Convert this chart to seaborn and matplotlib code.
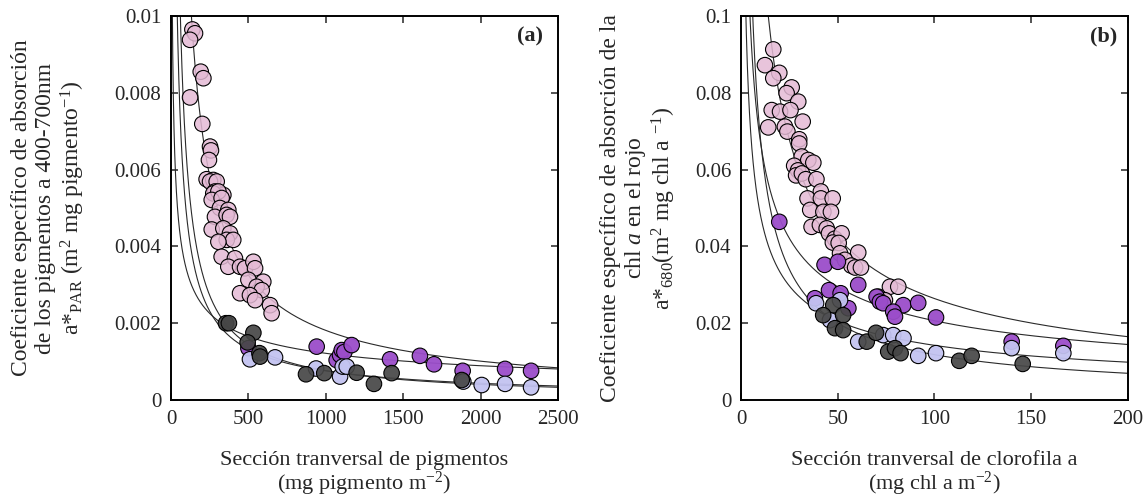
import numpy as np
import pandas as pd
import matplotlib
matplotlib.use("Agg")
import matplotlib.pyplot as plt
import seaborn as sns

# ---------------- data: panel (a) ----------------
pink_a_x = [138, 155, 123, 192, 209, 123, 202, 252, 258, 245,
            230, 273, 252, 295, 284, 338, 273, 306, 263, 327,
            316, 370, 284, 359, 381, 263, 338, 381, 360, 402,
            306, 327, 413, 370, 446, 478, 532, 543, 500, 596,
            553, 586, 446, 510, 543, 640, 650]
pink_a_y = [0.00965, 0.00955, 0.00938, 0.00855, 0.00838, 0.00788, 0.00719, 0.0066, 0.0065, 0.00625,
            0.00575, 0.00573, 0.00569, 0.00569, 0.00543, 0.00534, 0.00538, 0.00543, 0.00521, 0.00526,
            0.00500, 0.00495, 0.00477, 0.00482, 0.00477, 0.00444, 0.00447, 0.00434, 0.00417, 0.00417,
            0.00412, 0.00373, 0.00369, 0.00347, 0.00347, 0.00343, 0.00360, 0.00343, 0.00313, 0.00308,
            0.00295, 0.00286, 0.00278, 0.00273, 0.00260, 0.00247, 0.00226]
purple_a_x = [500, 941, 1070, 1092, 1103, 1120, 1167, 1415, 1608, 1699, 1884, 2158, 2326]
purple_a_y = [0.00135, 0.00139, 0.00104, 0.00117, 0.00130, 0.00125, 0.00143, 0.00106, 0.00115,
              0.00093, 0.00076, 0.00081, 0.00076]
lav_a_x = [510, 672, 937, 1092, 1109, 1135, 1888, 2007, 2158, 2326]
lav_a_y = [0.00106, 0.00111, 0.00082, 0.00061, 0.00087, 0.00087, 0.00048, 0.00039, 0.00042, 0.00033]
dark_a_x = [355, 374, 532, 495, 571, 575, 872, 990, 1199, 1311, 1425, 1878]
dark_a_y = [0.00200, 0.00200, 0.00175, 0.00150, 0.00122, 0.00113, 0.00067, 0.00070, 0.00071,
            0.00042, 0.00070, 0.00052]

# ---------------- data: panel (b) ----------------
pink_b_x = [16.7, 12.4, 19.8, 16.7, 26.2, 23.6, 29.6, 15.9, 20.2, 25.6,
            14.1, 31.9, 22.7, 24.0, 30.1, 30.1, 31.4, 34.8, 37.4, 27.5,
            29.5, 28.5, 31.5, 33.5, 39.0, 41.3, 34.4, 41.3, 47.4, 35.8,
            42.6, 46.5, 36.5, 40.8, 44.3, 45.5, 48.5, 52.0, 47.5, 50.5,
            60.6, 51.2, 53.7, 57.0, 59.0, 62.0, 77.0, 81.3, 71.0, 74.4]
pink_b_y = [0.0913, 0.0872, 0.0852, 0.0838, 0.0814, 0.0799, 0.0777, 0.0755, 0.0751, 0.0755,
            0.0710, 0.0725, 0.0712, 0.0699, 0.0679, 0.0668, 0.0634, 0.0625, 0.0618, 0.0610,
            0.0598, 0.0585, 0.0590, 0.0575, 0.0575, 0.0543, 0.0525, 0.0525, 0.0525, 0.0495,
            0.0490, 0.0490, 0.0451, 0.0456, 0.0447, 0.0434, 0.0420, 0.0434, 0.0410, 0.0409,
            0.0384, 0.0382, 0.0365, 0.0350, 0.0345, 0.0345, 0.0295, 0.0295, 0.0269, 0.0260]
purple_b_x = [19.8, 43.2, 50.1, 60.6, 45.5, 51.5, 38.2, 55.5, 70.1, 71.8, 73.5, 83.9,
              91.6, 78.7, 79.6, 100.8, 139.9, 166.6]
purple_b_y = [0.0464, 0.0352, 0.0360, 0.0300, 0.0286, 0.0278, 0.0265, 0.0239, 0.0269, 0.0256,
              0.0252, 0.0247, 0.0253, 0.0230, 0.0217, 0.0215, 0.0152, 0.0141]
lav_b_x = [38.8, 51.2, 46.0, 60.6, 73.5, 78.7, 84.0, 91.6, 100.8, 139.9, 166.6]
lav_b_y = [0.0252, 0.0260, 0.0208, 0.0152, 0.0169, 0.0169, 0.0161, 0.0115, 0.0122, 0.0135, 0.0122]
dark_b_x = [47.7, 42.5, 52.8, 48.6, 52.8, 65.0, 69.8, 76.1, 79.6, 82.5, 112.8, 119.2, 145.6]
dark_b_y = [0.0247, 0.0221, 0.0221, 0.0187, 0.0182, 0.0152, 0.0175, 0.0126, 0.0135, 0.0122,
            0.0102, 0.0115, 0.0094]

groups = ["pink", "purple", "lavender", "dark"]
face_colors = {"pink": (0.894, 0.729, 0.835, 0.85),
               "purple": (0.608, 0.302, 0.792, 0.95),
               "lavender": (0.765, 0.765, 0.945, 0.95),
               "dark": (0.275, 0.275, 0.275, 0.92)}

a_xticks = [0, 500, 1000, 1500, 2000, 2500]
a_yticks = [0, 0.002, 0.004, 0.006, 0.008, 0.01]
a_yticklabels = ["0", "0.002", "0.004", "0.006", "0.008", "0.01"]
b_xticks = [0, 50, 100, 150, 200]
b_yticks = [0, 0.02, 0.04, 0.06, 0.08, 0.1]
b_yticklabels = ["0", "0.02", "0.04", "0.06", "0.08", "0.1"]

sns.set_style("ticks")
plt.rcParams['font.family'] = ['Liberation Serif', 'DejaVu Serif']
plt.rcParams['mathtext.fontset'] = 'custom'
plt.rcParams['mathtext.rm'] = 'Liberation Serif'
plt.rcParams['mathtext.it'] = 'Liberation Serif:italic'
plt.rcParams['mathtext.bf'] = 'Liberation Serif:bold'


def make_frame(series):
    rows = []
    for g, (xs, ys) in zip(groups, series):
        for x, y in zip(xs, ys):
            rows.append({"x": x, "y": y, "grupo": g})
    return pd.DataFrame(rows)


def power_fit(xs, ys):
    b, loga = np.polyfit(np.log(xs), np.log(ys), 1)
    return np.exp(loga), b


fig = plt.figure(figsize=(11.47, 4.99), dpi=100)
ax1 = fig.add_axes([0.1491, 0.1984, 0.3374, 0.7695])
ax2 = fig.add_axes([0.6460, 0.1984, 0.3374, 0.7695])

panels = [
    (ax1, [(pink_a_x, pink_a_y), (purple_a_x, purple_a_y), (lav_a_x, lav_a_y), (dark_a_x, dark_a_y)],
     2500, 0.01, a_xticks, a_yticks, a_yticklabels),
    (ax2, [(pink_b_x, pink_b_y), (purple_b_x, purple_b_y), (lav_b_x, lav_b_y), (dark_b_x, dark_b_y)],
     200, 0.1, b_xticks, b_yticks, b_yticklabels),
]

for ax, series, xmax, ymax, xt, yt, ytl in panels:
    for xs, ys in series:
        a, b = power_fit(np.array(xs, float), np.array(ys, float))
        xx = np.geomspace(xmax * 1e-4, xmax, 600)
        ax.plot(xx, a * xx ** b, color="#2a2a2a", lw=0.8, zorder=1)
    df = make_frame(series)
    sns.scatterplot(data=df, x="x", y="y", hue="grupo", hue_order=groups,
                    palette=face_colors, s=125, edgecolor="black", linewidth=0.8,
                    legend=False, ax=ax, zorder=3)
    ax.set_xlim(0, xmax)
    ax.set_ylim(0, ymax)
    ax.set_xticks(xt)
    ax.set_xticklabels([str(v) for v in xt])
    ax.set_yticks(yt)
    ax.set_yticklabels(ytl)
    ax.tick_params(direction="in", top=True, right=True, length=5, width=1.1,
                   labelsize=15, pad=7)
    for sp in ax.spines.values():
        sp.set_linewidth(1.4)
        sp.set_color("black")

ax1.set_xlabel("Sección tranversal de pigmentos\n(mg pigmento m$^{-2}$)", fontsize=16,
               labelpad=16, linespacing=1.0)
ax2.set_xlabel("Sección tranversal de clorofila a\n(mg chl a m$^{-2}$)", fontsize=16,
               labelpad=16, linespacing=1.0)

ax1.set_ylabel("Coeficiente específico de absorción\nde los pigmentos a 400-700nm\n"
               "a*$_{\\mathrm{PAR}}$ (m$^{2}$ mg pigmento$^{-1}$)", fontsize=17, linespacing=1.15)
ax1.yaxis.set_label_coords(-0.217, 0.5)
ax2.set_ylabel("Coeficiente específico de absorción de la\nchl $\\mathit{a}$ en el rojo\n"
               "a*$_{680}$(m$^{2}$ mg chl a $^{-1}$)", fontsize=17, linespacing=1.1)
ax2.yaxis.set_label_coords(-0.163, 0.5)

ax1.text(0.962, 0.948, "(a)", transform=ax1.transAxes, ha="right", va="center",
         fontsize=16, fontweight="bold")
ax2.text(0.972, 0.948, "(b)", transform=ax2.transAxes, ha="right", va="center",
         fontsize=16, fontweight="bold")

fig.savefig("out.png", dpi=100)
